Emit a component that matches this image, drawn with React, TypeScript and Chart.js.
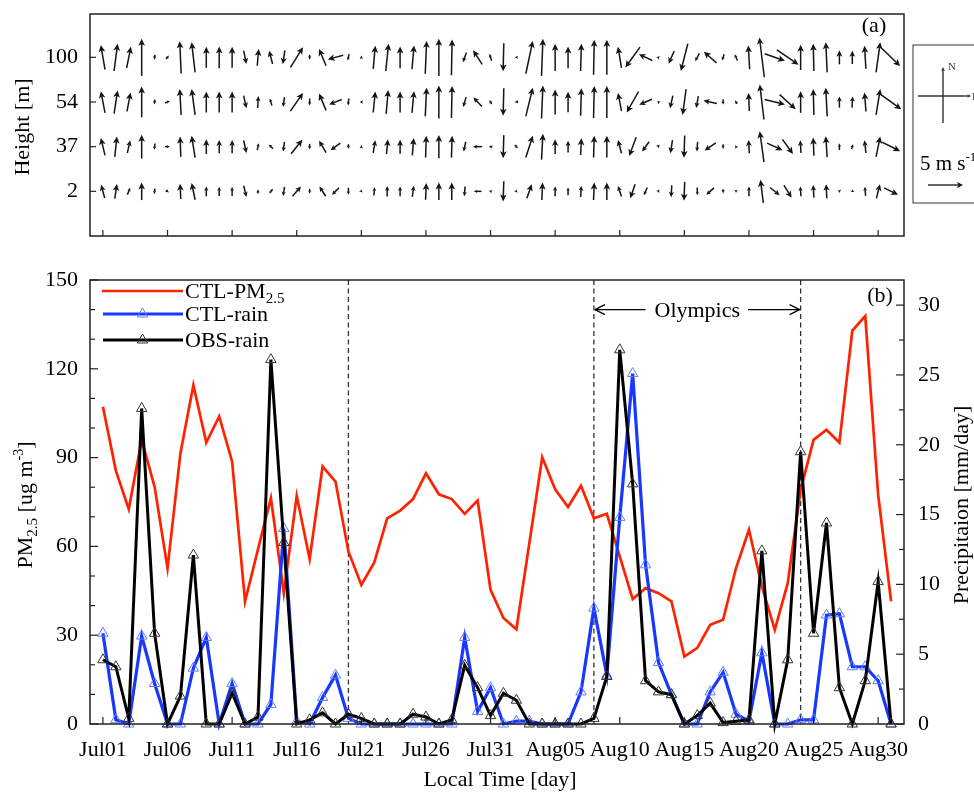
import React, { useEffect, useRef } from "react";
import { Chart, registerables } from "chart.js";

Chart.register(...registerables);

const SERIF = '"Liberation Serif", "Times New Roman", Times, serif';

// ---------------- data ----------------
const xTickDays = [0, 5, 10, 15, 20, 25, 30, 35, 40, 45, 50, 55, 60];
const xTickLabels = ["Jul01", "Jul06", "Jul11", "Jul16", "Jul21", "Jul26", "Jul31", "Aug05", "Aug10", "Aug15", "Aug20", "Aug25", "Aug30"];

const pm25 = [107.2, 85.6, 72.6, 96.0, 80.1, 52.6, 91.5, 114.5, 95.1, 103.9, 88.6, 41.4, 59.0, 76.3, 44.2, 77.1, 55.7, 87.0, 81.9, 58.3, 47.0, 54.6, 69.5, 72.1, 76.0, 84.7, 77.6, 76.0, 71.0, 75.5, 45.3, 35.8, 32.0, 61.0, 90.1, 79.3, 73.3, 80.5, 69.5, 71.0, 56.6, 42.2, 45.9, 44.2, 41.4, 22.8, 25.7, 33.5, 35.2, 52.7, 65.6, 46.5, 31.8, 47.6, 79.1, 96.0, 99.4, 95.1, 132.9, 137.8, 77.4, 41.4];
const ctlRain = [6.5, 0.3, 0, 6.3, 2.9, 0, 0, 4.0, 6.2, 0, 2.9, 0, 0, 1.4, 14.0, 0.2, 0, 1.9, 3.5, 0.4, 0, 0, 0, 0, 0, 0, 0, 0, 6.2, 0.9, 2.6, 0, 0.2, 0.2, 0, 0, 0, 2.3, 8.3, 3.5, 14.8, 25.1, 11.4, 4.4, 2.1, 0, 0, 2.3, 3.7, 0.7, 0.2, 5.1, 0, 0, 0.3, 0.3, 7.8, 7.9, 4.1, 4.1, 3.1, 0];
const obsRain = [4.6, 4.1, 0.4, 22.6, 6.5, 0, 2.0, 12.1, 0, 0, 2.2, 0, 0.5, 26.1, 13.0, 0, 0.3, 0.8, 0, 0.7, 0.4, 0, 0, 0, 0.7, 0.5, 0, 0.3, 4.2, 2.6, 0.6, 2.2, 1.7, 0, 0, 0, 0, 0, 0.4, 3.4, 26.8, 17.2, 3.1, 2.3, 2.1, 0, 0.6, 1.5, 0.1, 0.2, 0.3, 12.4, 0, 4.6, 19.5, 6.5, 14.4, 2.6, 0, 3.1, 10.2, 0];

const pmTicks = [0, 30, 60, 90, 120, 150];
const rainTicks = [0, 5, 10, 15, 20, 25, 30];
const eventDays = [19, 38, 54];

const heightLabels = ["2", "37", "54", "100"];
// wind components [m/s] (u: east, v: north)
const u100 = [-0.6, 0.5, 0.6, 0, -0.1, 0.4, -0.2, -0.5, 0, 0, 0, 0.4, 0.2, -0.5, -0.3, 1.8, 0, -1.0, -2.2, -0.2, 0, 0.3, 0.4, 0, 0.3, 0.2, 0, 0.1, -0.5, -1.3, -0.3, -0.1, -0.3, 1.0, 0.2, 0, 0, 0.1, 0.1, 0, -0.5, -2.1, -1.9, 0.1, -0.8, -1.0, -0.6, -1.8, -0.3, -0.4, -0.2, -0.7, 2.9, 3.1, 0, -0.1, -0.2, 0, 0, -0.2, 0.6, 2.6];
const v100 = [3.5, 3.9, 3.0, 5.3, -0.7, 0.5, 4.6, 4.3, 3.0, 3.1, 3.0, -1.9, 2.4, 1.9, -2.0, 2.9, -0.7, 2.4, -0.6, -0.9, 0.1, 3.3, 3.9, 3.1, 3.4, 4.7, 5.3, 5.1, -1.4, 2.0, 1.0, -4.0, 0, 4.7, 5.3, 3.9, 3.1, 3.9, 5.0, 5.0, 3.0, -2.9, 0.9, 0.1, -1.8, -3.9, -1.1, 1.6, -0.9, 0.9, 3.4, 5.7, -1.0, -2.1, 3.6, 3.9, 4.3, 2.0, 1.9, 3.3, 4.3, -2.5];
const u54 = [-0.6, 0.5, 0.5, 0, -0.1, 0.7, -0.2, -0.5, 0, 0, 0, 0.4, 0.1, -0.3, -0.2, 1.8, 0, -1.0, -1.8, -0.1, -0.1, 0.3, 0.3, 0, 0.3, 0.2, 0, 0.1, -0.4, -1.2, -0.3, -0.1, -0.5, 1.0, 0.2, 0, 0, 0.1, 0.1, 0, -0.5, -1.7, -1.8, -0.1, -0.4, -0.5, -0.3, -1.9, 0, -0.3, -0.1, -0.6, 2.9, 2.3, 0, -0.1, -0.2, 0, 0.1, -0.2, 0.6, 2.9];
const v54 = [3.1, 3.3, 2.7, 4.4, -0.7, 0.3, 3.7, 3.7, 3.0, 3.0, 3.0, -1.8, 1.7, 1.0, -1.4, 2.6, -1.0, 2.4, -0.7, -1.0, 0, 3.0, 3.4, 3.0, 3.1, 4.1, 4.7, 4.6, -1.4, 1.3, 0.6, -3.9, -0.1, 4.1, 4.7, 3.6, 2.9, 3.9, 4.6, 4.6, 2.6, -3.0, -0.8, 0.1, -1.8, -3.7, -1.7, 0.4, -0.8, 0.5, 2.6, 5.0, -0.7, -2.1, 3.1, 3.7, 4.1, 1.6, 1.6, 2.7, 3.7, -2.1];
const u37 = [-0.6, 0.3, 0.4, 0, -0.1, 0.7, -0.1, -0.5, 0, 0, 0, 0.4, 0.2, -0.6, -0.2, 1.6, 0, -1.0, -1.4, 0, 0, 0.3, 0.2, 0, 0.2, 0.1, 0, 0.1, -0.3, -1.3, -0.3, -0.1, 0.4, 1.0, 0.2, 0, 0, 0.1, 0.1, 0, -0.5, -1.0, -1.0, 0.1, -0.3, -0.1, -0.1, -1.6, 0, -0.1, -0.1, -0.6, 2.2, 1.5, -0.1, -0.1, -0.2, 0, 0.2, -0.2, 0.6, 2.6];
const v37 = [2.5, 2.9, 1.8, 3.4, -0.9, 0, 2.9, 3.1, 2.1, 1.9, 1.9, -1.8, 1.0, 0.6, -1.4, 2.0, -0.8, 1.7, -1.0, -0.7, 0.1, 1.8, 2.1, 2.0, 2.5, 3.1, 3.3, 3.1, -1.4, 0, 0.1, -3.3, -0.5, 3.1, 3.7, 2.1, 1.7, 2.4, 3.1, 3.1, 1.9, -2.7, -1.4, -0.3, -1.9, -3.2, -1.4, -1.1, -0.7, 0.2, 1.9, 4.4, -1.0, -2.1, 1.8, 2.6, 3.0, 1.0, 0.7, 1.8, 2.9, -1.3];
const u2 = [-0.5, 0.3, 0.4, 0, -0.1, 0.4, -0.1, -0.5, 0, 0, 0, 0.4, 0, -0.5, -0.2, 1.2, 0, -0.9, -1.0, 0, 0.1, 0.1, 0, 0, 0.2, 0.1, 0, 0, -0.1, -1.1, -0.2, -0.1, 0.3, 0.7, 0.1, 0, 0, 0.1, 0.1, 0, -0.5, -0.7, -0.5, 0.1, -0.1, -0.1, 0, -1.1, 0, 0, 0, -0.4, 1.4, 1.1, -0.1, -0.1, -0.1, 0, -0.4, -0.1, 0.5, 2.0];
const v2 = [1.9, 2.1, 1.0, 2.5, -0.8, -0.3, 2.2, 2.4, 1.4, 1.3, 1.3, -1.6, 0.6, -0.6, -1.3, 1.4, -0.7, 1.4, -1.0, -1.0, -0.1, 1.2, 1.5, 1.4, 1.6, 2.4, 2.5, 2.5, -1.4, 0, 0.1, -2.9, -0.4, 2.0, 2.5, 1.4, 1.1, 1.6, 2.5, 2.5, 1.5, -2.0, -1.1, -0.2, -1.7, -2.7, -1.1, -1.0, -0.6, -0.3, 1.4, 3.3, -1.1, -1.8, 1.4, 1.8, 2.0, -0.2, -0.2, 1.3, 2.0, -1.0];

const windU = [u2, u37, u54, u100];
const windV = [v2, v37, v54, v100];
const legendSpeed = 5; // m/s reference arrow

// ---------------- style ----------------
const RED = "rgb(255,34,0)";
const BLUE = "rgb(24,56,255)";
const BLUE_MK = "rgb(95,125,255)";
const BLACK = "#000";
const FRAME = "#222";
const PX_PER_MS = 7;

type Part = { t: string; size: number; dy?: number };

function drawRich(ctx: CanvasRenderingContext2D, parts: Part[], x: number, y: number, align: "left" | "center") {
  let w = 0;
  for (const p of parts) {
    ctx.font = `${p.size}px ${SERIF}`;
    w += ctx.measureText(p.t).width;
  }
  let cx = align === "center" ? x - w / 2 : x;
  ctx.textAlign = "left";
  ctx.textBaseline = "alphabetic";
  for (const p of parts) {
    ctx.font = `${p.size}px ${SERIF}`;
    ctx.fillText(p.t, cx, y + (p.dy || 0));
    cx += ctx.measureText(p.t).width;
  }
}

function line(ctx: CanvasRenderingContext2D, x1: number, y1: number, x2: number, y2: number) {
  ctx.beginPath();
  ctx.moveTo(x1, y1);
  ctx.lineTo(x2, y2);
  ctx.stroke();
}

function arrow(ctx: CanvasRenderingContext2D, tx: number, ty: number, hx: number, hy: number, hlMax = 7) {
  const dx = hx - tx, dy = hy - ty;
  const len = Math.hypot(dx, dy);
  if (len < 0.01) return;
  const ux = dx / len, uy = dy / len;
  const hl = Math.min(hlMax, Math.max(3.5, len * 0.45));
  const hw = hl * 0.48;
  if (len > hl) {
    line(ctx, tx, ty, hx - ux * hl * 0.7, hy - uy * hl * 0.7);
  }
  const bx = hx - ux * hl, by = hy - uy * hl;
  ctx.beginPath();
  ctx.moveTo(hx, hy);
  ctx.lineTo(bx - uy * hw, by + ux * hw);
  ctx.lineTo(hx - ux * hl * 0.75, hy - uy * hl * 0.75);
  ctx.lineTo(bx + uy * hw, by - ux * hw);
  ctx.closePath();
  ctx.fill();
}

function triangle(ctx: CanvasRenderingContext2D, x: number, y: number, r: number) {
  ctx.beginPath();
  let rad = 0;
  ctx.moveTo(x + Math.sin(rad) * r, y - Math.cos(rad) * r);
  rad += (2 * Math.PI) / 3;
  ctx.lineTo(x + Math.sin(rad) * r, y - Math.cos(rad) * r);
  rad += (2 * Math.PI) / 3;
  ctx.lineTo(x + Math.sin(rad) * r, y - Math.cos(rad) * r);
  ctx.closePath();
  ctx.stroke();
}

const noScalePadding = (s: any) => {
  s.paddingTop = 0;
  s.paddingBottom = 0;
  s.paddingLeft = 0;
  s.paddingRight = 0;
};

// ---------------- plugins ----------------
const windPlugin = {
  id: "windDeco",
  afterDatasetsDraw(chart: any) {
    const { ctx, chartArea: a, scales } = chart;
    const xs = scales.x, ys = scales.y;
    ctx.save();
    // arrows
    ctx.strokeStyle = "#151515";
    ctx.fillStyle = "#151515";
    ctx.lineWidth = 1.5;
    windU.forEach((us: number[], li: number) => {
      const cy = ys.getPixelForValue(li + 1);
      us.forEach((u: number, i: number) => {
        const v = windV[li][i];
        const cx = xs.getPixelForValue(i);
        let dx = u * PX_PER_MS, dy = -v * PX_PER_MS;
        const len = Math.hypot(dx, dy);
        if (len < 3.5) {
          const s = len < 0.3 ? 1 : 3.5 / len;
          dx = len < 0.3 ? 0 : dx * s;
          dy = len < 0.3 ? -3.5 : dy * s;
        }
        arrow(ctx, cx - dx / 2, cy - dy / 2, cx + dx / 2, cy + dy / 2);
      });
    });
    // frame
    ctx.strokeStyle = FRAME;
    ctx.lineWidth = 1.5;
    ctx.strokeRect(a.left, a.top, a.right - a.left, a.bottom - a.top);
    ctx.lineWidth = 1.2;
    xTickDays.forEach((d) => {
      const px = xs.getPixelForValue(d);
      line(ctx, px, a.bottom, px, a.bottom - 6);
    });
    heightLabels.forEach((_, li) => {
      const py = ys.getPixelForValue(li + 1);
      line(ctx, a.left, py, a.left + 6, py);
    });
    // panel label
    ctx.fillStyle = "#000";
    ctx.font = `22px ${SERIF}`;
    ctx.textAlign = "center";
    ctx.textBaseline = "middle";
    ctx.fillText("(a)", a.right - 30, a.top + 12);
    // y title
    ctx.save();
    ctx.translate(22, (a.top + a.bottom) / 2 + 2);
    ctx.rotate(-Math.PI / 2);
    drawRich(ctx, [{ t: "Height [m]", size: 22 }], 0, 7, "center");
    ctx.restore();
    // legend box
    const bx = a.right + 9, by = 45;
    ctx.strokeStyle = "#555";
    ctx.lineWidth = 1.2;
    ctx.strokeRect(bx, by, 90, 158);
    ctx.strokeStyle = "#333";
    ctx.fillStyle = "#333";
    ctx.lineWidth = 1.4;
    const ccx = bx + 30, ccy = by + 51;
    line(ctx, ccx, ccy + 27, ccx, ccy - 20);
    arrow(ctx, ccx, ccy - 20, ccx, ccy - 29, 5);
    line(ctx, ccx - 25, ccy, ccx + 20, ccy);
    arrow(ctx, ccx + 20, ccy, ccx + 28, ccy, 5);
    ctx.fillStyle = "#444";
    ctx.font = `11px ${SERIF}`;
    ctx.textAlign = "left";
    ctx.textBaseline = "middle";
    ctx.fillText("N", ccx + 5, ccy - 29);
    ctx.fillText("E", ccx + 29, ccy + 1);
    ctx.fillStyle = "#000";
    drawRich(ctx, [{ t: "5 m s", size: 21 }, { t: "-1", size: 13, dy: -9 }], bx + 7, by + 125, "left");
    ctx.strokeStyle = "#111";
    ctx.fillStyle = "#111";
    ctx.lineWidth = 1.3;
    const ax0 = bx + 15;
    arrow(ctx, ax0, by + 140, ax0 + legendSpeed * PX_PER_MS, by + 140, 6);
    ctx.restore();
  },
};

const rainPlugin = {
  id: "rainDeco",
  beforeDatasetsDraw(chart: any) {
    const { ctx, chartArea: a, scales } = chart;
    ctx.save();
    ctx.strokeStyle = "#333";
    ctx.lineWidth = 1.3;
    ctx.setLineDash([5, 3.5]);
    eventDays.forEach((d) => {
      const px = scales.x.getPixelForValue(d);
      line(ctx, px, a.top, px, a.bottom);
    });
    ctx.restore();
  },
  afterDatasetsDraw(chart: any) {
    const { ctx, chartArea: a, scales } = chart;
    const xs = scales.x, ys = scales.y, y1 = scales.y1;
    ctx.save();
    // frame
    ctx.strokeStyle = FRAME;
    ctx.lineWidth = 1.5;
    ctx.strokeRect(a.left, a.top, a.right - a.left, a.bottom - a.top);
    ctx.lineWidth = 1.2;
    xTickDays.forEach((d) => {
      const px = xs.getPixelForValue(d);
      line(ctx, px, a.bottom, px, a.bottom - 7);
    });
    for (let v = 0; v <= 150; v += 10) {
      const py = ys.getPixelForValue(v);
      line(ctx, a.left, py, a.left + (v % 30 === 0 ? 8 : 5), py);
    }
    for (let v = 0; v <= 30; v += 2.5) {
      const py = y1.getPixelForValue(v);
      line(ctx, a.right, py, a.right - (v % 5 === 0 ? 8 : 5), py);
    }
    // Olympics annotation
    const oy = ys.getPixelForValue(140);
    const x0 = xs.getPixelForValue(eventDays[1]);
    const x1 = xs.getPixelForValue(eventDays[2]);
    const mid = (x0 + x1) / 2;
    ctx.fillStyle = "#000";
    ctx.font = `22px ${SERIF}`;
    const tw = ctx.measureText("Olympics").width;
    drawRich(ctx, [{ t: "Olympics", size: 22 }], mid, oy + 7, "center");
    ctx.strokeStyle = "#000";
    ctx.lineWidth = 1.2;
    line(ctx, mid - tw / 2 - 9, oy, x0 + 1, oy);
    line(ctx, x0 + 1, oy, x0 + 11, oy - 5);
    line(ctx, x0 + 1, oy, x0 + 11, oy + 5);
    line(ctx, mid + tw / 2 + 8, oy, x1 - 1, oy);
    line(ctx, x1 - 1, oy, x1 - 11, oy - 5);
    line(ctx, x1 - 1, oy, x1 - 11, oy + 5);
    // panel label
    ctx.font = `22px ${SERIF}`;
    ctx.textAlign = "center";
    ctx.textBaseline = "middle";
    ctx.fillText("(b)", a.right - 24, a.top + 16);
    // legend
    const lx0 = a.left + 12, lx1 = a.left + 93, tx = a.left + 95;
    const ly = [a.top + 11, a.top + 34, a.top + 60];
    ctx.lineWidth = 2.7;
    ctx.strokeStyle = RED;
    line(ctx, lx0, ly[0], lx1, ly[0]);
    ctx.lineWidth = 3.2;
    ctx.strokeStyle = BLUE;
    line(ctx, lx0 + 1, ly[1], lx1, ly[1]);
    ctx.lineWidth = 1;
    ctx.strokeStyle = BLUE_MK;
    triangle(ctx, (lx0 + lx1) / 2, ly[1], 6);
    ctx.lineWidth = 3;
    ctx.strokeStyle = BLACK;
    line(ctx, lx0 + 1, ly[2], lx1, ly[2]);
    ctx.lineWidth = 1;
    ctx.strokeStyle = "#333";
    triangle(ctx, (lx0 + lx1) / 2, ly[2], 6);
    ctx.fillStyle = "#000";
    drawRich(ctx, [{ t: "CTL-PM", size: 22 }, { t: "2.5", size: 15, dy: 5 }], tx, ly[0] + 7, "left");
    drawRich(ctx, [{ t: "CTL-rain", size: 22 }], tx, ly[1] + 7, "left");
    drawRich(ctx, [{ t: "OBS-rain", size: 22 }], tx, ly[2] + 7, "left");
    // axis titles
    drawRich(ctx, [{ t: "Local Time [day]", size: 22 }], (a.left + a.right) / 2 + 3, a.bottom + 62, "center");
    const cyT = (a.top + a.bottom) / 2 + 3;
    ctx.save();
    ctx.translate(25, cyT);
    ctx.rotate(-Math.PI / 2);
    drawRich(
      ctx,
      [
        { t: "PM", size: 22 },
        { t: "2.5", size: 15, dy: 5 },
        { t: " [ug m", size: 22 },
        { t: "-3", size: 14, dy: -9 },
        { t: "]", size: 22 },
      ],
      0,
      7,
      "center"
    );
    ctx.restore();
    ctx.save();
    ctx.translate(a.right + 57, cyT);
    ctx.rotate(-Math.PI / 2);
    drawRich(ctx, [{ t: "Precipitaion [mm/day]", size: 22 }], 0, 7, "center");
    ctx.restore();
    ctx.restore();
  },
};

// ---------------- components ----------------
function WindChart() {
  const ref = useRef<HTMLCanvasElement | null>(null);
  useEffect(() => {
    if (!ref.current) return;
    const chart = new Chart(ref.current, {
      type: "scatter",
      data: {
        datasets: heightLabels.map((h, li) => ({
          label: h + " m",
          data: windU[li].map((_, i) => ({ x: i, y: li + 1 })),
          pointRadius: 0,
          showLine: false,
        })),
      },
      options: {
        animation: false,
        responsive: false,
        events: [],
        layout: { padding: { top: 14, bottom: 14, right: 70, left: 0 } },
        plugins: { legend: { display: false }, tooltip: { enabled: false } },
        scales: {
          x: { type: "linear", min: -1, max: 62, display: false },
          y: {
            type: "linear",
            min: 0,
            max: 4.97,
            afterBuildTicks: (s: any) => {
              s.ticks = heightLabels.map((_, i) => ({ value: i + 1 }));
            },
            afterFit: (s: any) => {
              s.width = 90;
              noScalePadding(s);
            },
            grid: { display: false, drawTicks: false },
            border: { display: false },
            ticks: {
              padding: 12,
              color: "#000",
              font: { family: SERIF, size: 22 },
              callback: (v: any) => heightLabels[Math.round(Number(v)) - 1] ?? "",
            },
          },
        },
      },
      plugins: [windPlugin],
    } as any);
    return () => chart.destroy();
  }, []);
  return <canvas ref={ref} width={974} height={250} style={{ position: "absolute", left: 0, top: 0, width: 974, height: 250 }} />;
}

function RainChart() {
  const ref = useRef<HTMLCanvasElement | null>(null);
  useEffect(() => {
    if (!ref.current) return;
    const pts = (arr: number[]) => arr.map((v, i) => ({ x: i, y: v }));
    const chart = new Chart(ref.current, {
      type: "line",
      data: {
        datasets: [
          {
            label: "CTL-PM2.5",
            data: pts(pm25),
            yAxisID: "y",
            borderColor: RED,
            borderWidth: 2.7,
            pointRadius: 0,
            tension: 0,
            order: 3,
            clip: false,
          },
          {
            label: "CTL-rain",
            data: pts(ctlRain),
            yAxisID: "y1",
            borderColor: BLUE,
            borderWidth: 3.2,
            pointStyle: "triangle",
            pointRadius: 6,
            pointBorderWidth: 1,
            pointBorderColor: BLUE_MK,
            pointBackgroundColor: "rgba(0,0,0,0)",
            tension: 0,
            order: 2,
            clip: false,
          },
          {
            label: "OBS-rain",
            data: pts(obsRain),
            yAxisID: "y1",
            borderColor: BLACK,
            borderWidth: 3,
            pointStyle: "triangle",
            pointRadius: 6,
            pointBorderWidth: 1,
            pointBorderColor: "#333",
            pointBackgroundColor: "rgba(0,0,0,0)",
            tension: 0,
            order: 1,
            clip: false,
          },
        ],
      },
      options: {
        animation: false,
        responsive: false,
        events: [],
        layout: { padding: { top: 30, bottom: 0, left: 0, right: 0 } },
        plugins: { legend: { display: false }, tooltip: { enabled: false } },
        scales: {
          x: {
            type: "linear",
            min: -1,
            max: 62,
            afterBuildTicks: (s: any) => {
              s.ticks = xTickDays.map((d) => ({ value: d }));
            },
            afterFit: (s: any) => {
              s.height = 71;
              noScalePadding(s);
            },
            grid: { display: false, drawTicks: false },
            border: { display: false },
            ticks: {
              autoSkip: false,
              maxRotation: 0,
              minRotation: 0,
              padding: 13,
              color: "#000",
              font: { family: SERIF, size: 22 },
              callback: (v: any) => xTickLabels[xTickDays.indexOf(Number(v))] ?? "",
            },
          },
          y: {
            type: "linear",
            position: "left",
            min: 0,
            max: 150,
            afterBuildTicks: (s: any) => {
              s.ticks = pmTicks.map((v) => ({ value: v }));
            },
            afterFit: (s: any) => {
              s.width = 90;
              noScalePadding(s);
            },
            grid: { display: false, drawTicks: false },
            border: { display: false },
            ticks: { padding: 12, color: "#000", font: { family: SERIF, size: 22 } },
          },
          y1: {
            type: "linear",
            position: "right",
            min: 0,
            max: 31.8,
            afterBuildTicks: (s: any) => {
              s.ticks = rainTicks.map((v) => ({ value: v }));
            },
            afterFit: (s: any) => {
              s.width = 70;
              noScalePadding(s);
            },
            grid: { display: false, drawTicks: false },
            border: { display: false },
            ticks: { padding: 14, color: "#000", font: { family: SERIF, size: 22 } },
          },
        },
      },
      plugins: [rainPlugin],
    } as any);
    return () => chart.destroy();
  }, []);
  return <canvas ref={ref} width={974} height={545} style={{ position: "absolute", left: 0, top: 250, width: 974, height: 545 }} />;
}

export default function App() {
  return (
    <div style={{ position: "absolute", left: 0, top: 0, width: 974, height: 795, background: "#fff", overflow: "hidden" }}>
      <WindChart />
      <RainChart />
    </div>
  );
}
